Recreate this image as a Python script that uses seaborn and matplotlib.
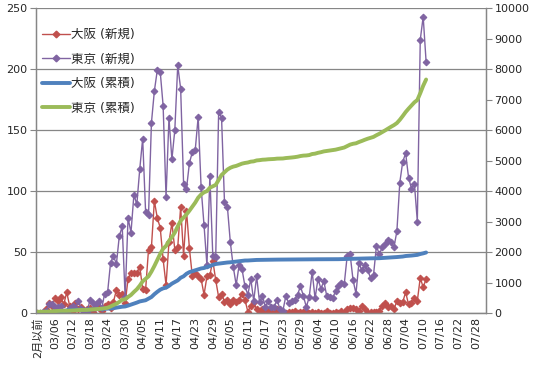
import numpy as np
import pandas as pd
import matplotlib
matplotlib.use("Agg")
import matplotlib.pyplot as plt
from matplotlib.lines import Line2D
import seaborn as sns

# =========================================================================
# === DATA ================================================================
# =========================================================================

# category 0 is everything before March, then one category per day 03/01 .. 07/31
categories = ["2月以前"] + [d.strftime("%m/%d") for d in pd.date_range("2020-03-01", "2020-07-31")]

# daily new cases, index 0 = "2月以前", last value = 07/11
tokyo_new = [
    0,
    # March
    0, 1, 2, 7, 7, 5, 5, 6, 0, 0, 4, 6, 4, 10, 3, 0, 1, 11, 8, 7,
    10, 4, 16, 17, 41, 47, 40, 63, 71, 13, 78,
    # April
    66, 97, 89, 118, 143, 83, 80, 156, 182, 199, 198, 170, 95, 160, 126, 150, 203, 184, 106, 102,
    123, 132, 134, 161, 103, 72, 39, 112, 47, 46,
    # May
    165, 160, 91, 87, 58, 38, 23, 39, 36, 22, 15, 28, 10, 30, 9, 14, 5, 10, 5, 5,
    11, 3, 2, 14, 8, 10, 11, 15, 22, 14, 5,
    # June
    13, 34, 12, 28, 20, 26, 14, 13, 12, 18, 22, 25, 24, 47, 48, 27, 16, 41, 35, 39,
    35, 29, 31, 55, 48, 54, 57, 60, 58, 54,
    # July
    67, 107, 124, 131, 111, 102, 106, 75, 224, 243, 206,
]

osaka_new = [
    0,
    # March
    0, 0, 3, 8, 6, 12, 10, 13, 7, 17, 6, 2, 8, 3, 5, 2, 3, 4, 1, 5,
    4, 2, 6, 7, 4, 9, 19, 15, 16, 8, 28,
    # April
    33, 33, 33, 38, 20, 19, 52, 54, 92, 78, 70, 44, 23, 58, 74, 52, 54, 87, 47, 84,
    53, 30, 33, 30, 28, 15, 30, 31, 43, 27,
    # May
    13, 16, 9, 11, 7, 11, 9, 11, 16, 11, 1, 6, 9, 3, 2, 3, 0, 2, 1, 0,
    3, 1, 0, 0, 1, 1, 2, 0, 1, 1, 2,
    # June
    0, 1, 0, 1, 0, 0, 2, 0, 0, 1, 0, 2, 0, 3, 4, 4, 3, 2, 6, 3,
    0, 1, 1, 1, 2, 6, 8, 5, 6, 3,
    # July
    10, 8, 9, 17, 7, 8, 12, 10, 29, 21, 28,
]

# cases reported before March (start of the cumulative lines)
tokyo_before_march = 40
osaka_before_march = 10

# cumulative totals = running sum of the daily counts
tokyo_total = tokyo_before_march + np.cumsum(tokyo_new)
osaka_total = osaka_before_march + np.cumsum(osaka_new)

df = pd.DataFrame({
    "pos": np.arange(len(tokyo_new)),
    "osaka_new": osaka_new,
    "tokyo_new": tokyo_new,
    "osaka_total": osaka_total,
    "tokyo_total": tokyo_total,
})

labels = ["大阪 (新規)", "東京 (新規)", "大阪 (累積)", "東京 (累積)"]
RED, PURPLE, BLUE, GREEN = "#C0504D", "#8064A2", "#4F81BD", "#9BBB59"
AXIS_GREY = "#868686"

# =========================================================================
# === PLOT ================================================================
# =========================================================================
sns.set_theme(style="white")
plt.rcParams["font.family"] = ["DejaVu Sans", "Noto Sans CJK JP"]

fig, ax = plt.subplots(figsize=(5.4, 3.7), dpi=100)
fig.subplots_adjust(left=0.0667, right=0.9, top=0.978, bottom=0.154)
ax2 = ax.twinx()

# --- daily counts on the left axis ---
sns.lineplot(data=df, x="pos", y="osaka_new", ax=ax, color=RED, linewidth=1,
             marker="D", markersize=3.4, markeredgecolor=RED, legend=False)
sns.lineplot(data=df, x="pos", y="tokyo_new", ax=ax, color=PURPLE, linewidth=1,
             marker="D", markersize=3.4, markeredgecolor=PURPLE, legend=False)

# --- cumulative totals on the right axis ---
sns.lineplot(data=df, x="pos", y="osaka_total", ax=ax2, color=BLUE, linewidth=2.8, legend=False)
sns.lineplot(data=df, x="pos", y="tokyo_total", ax=ax2, color=GREEN, linewidth=2.8, legend=False)

ax.set_xlim(-0.5, len(categories) - 0.5)
ax.set_ylim(0, 250)
ax2.set_ylim(0, 10000)
ax.set_yticks(range(0, 251, 50))
ax2.set_yticks(range(0, 10001, 1000))

ax.set_xticks(range(0, len(categories), 6))
ax.set_xticklabels(categories[::6], rotation=90, fontsize=8)
ax.set_xticks(np.arange(-0.5, len(categories), 2), minor=True)
ax.tick_params(axis="x", which="major", length=0, pad=3)
ax.tick_params(axis="x", which="minor", length=4, color=AXIS_GREY, width=0.8, direction="out")
ax.tick_params(axis="y", length=4, color=AXIS_GREY, width=0.8, labelsize=8, pad=2)
ax2.tick_params(axis="y", length=4, color=AXIS_GREY, width=0.8, labelsize=8, pad=2)

for a in (ax, ax2):
    a.set_xlabel("")
    a.set_ylabel("")
    a.spines["top"].set_visible(False)
    for s in ("left", "right", "bottom"):
        a.spines[s].set_color(AXIS_GREY)
        a.spines[s].set_linewidth(0.9)

ax.yaxis.grid(True, color=AXIS_GREY, linewidth=0.9)
ax.set_axisbelow(True)

# --- legend ---
handles = [
    Line2D([], [], color=RED, linewidth=1, marker="D", markersize=3.4),
    Line2D([], [], color=PURPLE, linewidth=1, marker="D", markersize=3.4),
    Line2D([], [], color=BLUE, linewidth=2.8),
    Line2D([], [], color=GREEN, linewidth=2.8),
]
ax2.legend(handles, labels, loc="upper left", bbox_to_anchor=(42 / 540, 1 - 28 / 370),
           bbox_transform=fig.transFigure, frameon=False, fontsize=9,
           handlelength=2.2, handletextpad=0.15, labelspacing=0.92,
           borderpad=0, borderaxespad=0)

fig.savefig("out.png", dpi=100)
